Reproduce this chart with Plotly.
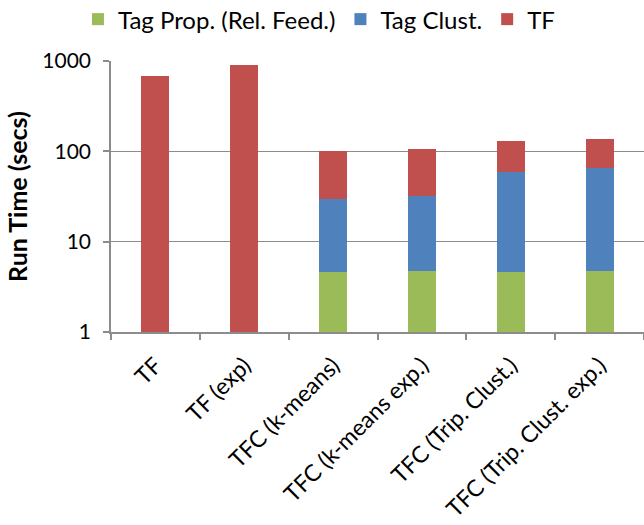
import plotly.graph_objects as go

# Run-time breakdown per method (seconds), stacked per component
methods = ["TF", "TF (exp)", "TFC (k-means)", "TFC (k-means exp.)",
           "TFC (Trip. Clust.)", "TFC (Trip. Clust. exp.)"]
tag_prop = [0, 0, 4.6, 4.7, 4.6, 4.7]
tag_clust = [0, 0, 24.9, 27.6, 54.1, 60.2]
tf_time = [684, 905, 71.5, 73.2, 71.3, 72.1]

series = [
    ("Tag Prop. (Rel. Feed.)", tag_prop, "#9BBB59"),
    ("Tag Clust.", tag_clust, "#4F81BD"),
    ("TF", tf_time, "#C0504D"),
]

FONT = "Lato"
GRID = "#8C8C8C"

fig = go.Figure()
for name, vals, color in series:
    fig.add_trace(go.Bar(
        x=methods, y=vals, name=name,
        marker=dict(color=color, line=dict(width=0)),
    ))

fig.update_layout(
    width=644, height=525,
    barmode="stack", bargap=0.684,
    plot_bgcolor="white", paper_bgcolor="white",
    margin=dict(l=111, r=0, t=61, b=193, autoexpand=False),
    font=dict(family=FONT, size=21, color="#000000"),
    legend=dict(
        orientation="h", x=-0.062, xanchor="left", y=1.153, yanchor="middle",
        font=dict(size=24), traceorder="normal",
        itemclick=False,
    ),
    showlegend=True,
)

fig.update_yaxes(
    type="log", range=[0, 3], automargin=False,
    tickvals=[1, 10, 100, 1000], ticktext=["1", "10", "100", "1000"],
    showgrid=True, gridcolor=GRID, gridwidth=1,
    showline=True, linecolor=GRID, linewidth=1.5,
    ticks="outside", ticklen=6, tickcolor=GRID, tickwidth=1.5,
    ticklabelstandoff=8,
    title=dict(text="<b>Run Time (secs)</b>", font=dict(size=25), standoff=8),
    zeroline=False,
)
fig.update_xaxes(
    tickangle=-45, tickson="boundaries", automargin=False,
    tickfont=dict(size=23),
    ticklabelstandoff=9,
    showline=True, linecolor=GRID, linewidth=2,
    ticks="outside", ticklen=6, tickcolor=GRID, tickwidth=1.5,
    showgrid=False,
)

fig.write_html("out.html")
